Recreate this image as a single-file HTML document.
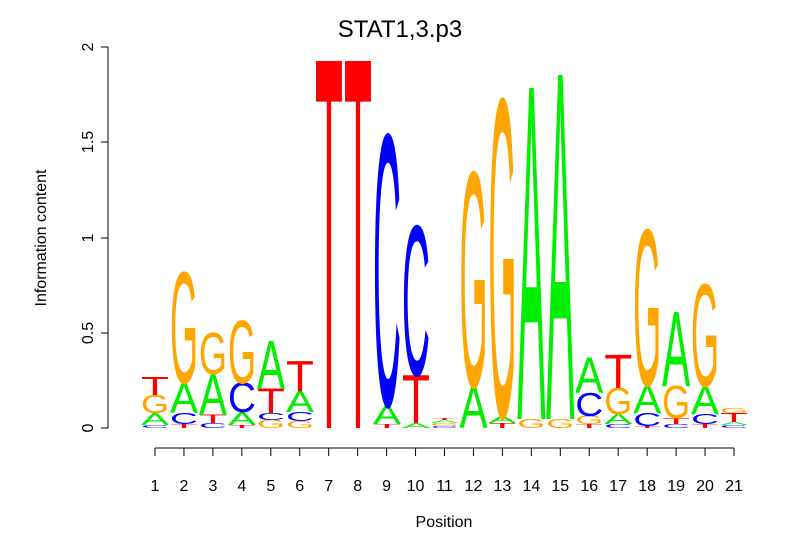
<!DOCTYPE html>
<html><head><meta charset="utf-8"><style>
body{margin:0;background:#fff}
svg{display:block}
.L{font-family:"Liberation Sans",sans-serif;font-weight:normal;font-size:100px}
.A{fill:#00ee00}.C{fill:#0000ff}.G{fill:#ffa500}.T{fill:#ff0000}
.ax{font-family:"Liberation Sans",sans-serif;font-size:16px;fill:#000}
</style></head><body>
<svg width="806" height="559" viewBox="0 0 806 559" xmlns="http://www.w3.org/2000/svg">
<rect width="806" height="559" fill="#fff"/>
<text x="400" y="37" text-anchor="middle" font-family="Liberation Sans, sans-serif" font-size="24">STAT1,3.p3</text>
<g stroke="#000" stroke-width="1" fill="none">
<line x1="108" y1="47" x2="108" y2="428"/>
<line x1="101" y1="428" x2="108" y2="428"/><line x1="101" y1="333" x2="108" y2="333"/><line x1="101" y1="238" x2="108" y2="238"/><line x1="101" y1="142" x2="108" y2="142"/><line x1="101" y1="47" x2="108" y2="47"/>
<line x1="155" y1="448" x2="734" y2="448"/>
<line x1="155" y1="448" x2="155" y2="456"/><line x1="183.95" y1="448" x2="183.95" y2="456"/><line x1="212.9" y1="448" x2="212.9" y2="456"/><line x1="241.85" y1="448" x2="241.85" y2="456"/><line x1="270.8" y1="448" x2="270.8" y2="456"/><line x1="299.75" y1="448" x2="299.75" y2="456"/><line x1="328.7" y1="448" x2="328.7" y2="456"/><line x1="357.65" y1="448" x2="357.65" y2="456"/><line x1="386.6" y1="448" x2="386.6" y2="456"/><line x1="415.55" y1="448" x2="415.55" y2="456"/><line x1="444.5" y1="448" x2="444.5" y2="456"/><line x1="473.45" y1="448" x2="473.45" y2="456"/><line x1="502.4" y1="448" x2="502.4" y2="456"/><line x1="531.35" y1="448" x2="531.35" y2="456"/><line x1="560.3" y1="448" x2="560.3" y2="456"/><line x1="589.25" y1="448" x2="589.25" y2="456"/><line x1="618.2" y1="448" x2="618.2" y2="456"/><line x1="647.15" y1="448" x2="647.15" y2="456"/><line x1="676.1" y1="448" x2="676.1" y2="456"/><line x1="705.05" y1="448" x2="705.05" y2="456"/><line x1="734" y1="448" x2="734" y2="456"/>
</g>
<g class="ax" text-anchor="middle">
<text transform="translate(93,428) rotate(-90)">0</text>
<text transform="translate(93,333) rotate(-90)">0.5</text>
<text transform="translate(93,238) rotate(-90)">1</text>
<text transform="translate(93,142) rotate(-90)">1.5</text>
<text transform="translate(93,47) rotate(-90)">2</text>
<text transform="translate(46,238) rotate(-90)">Information content</text>
<text x="444" y="527">Position</text>
<text x="155" y="491">1</text><text x="183.95" y="491">2</text><text x="212.9" y="491">3</text><text x="241.85" y="491">4</text><text x="270.8" y="491">5</text><text x="299.75" y="491">6</text><text x="328.7" y="491">7</text><text x="357.65" y="491">8</text><text x="386.6" y="491">9</text><text x="415.55" y="491">10</text><text x="444.5" y="491">11</text><text x="473.45" y="491">12</text><text x="502.4" y="491">13</text><text x="531.35" y="491">14</text><text x="560.3" y="491">15</text><text x="589.25" y="491">16</text><text x="618.2" y="491">17</text><text x="647.15" y="491">18</text><text x="676.1" y="491">19</text><text x="705.05" y="491">20</text><text x="734" y="491">21</text>
</g>
<g class="L">
<text class="C" transform="translate(141,428) scale(0.388,0.044)">C</text>
<text class="A" transform="translate(141,425) scale(0.42,0.174)">A</text>
<text class="G" transform="translate(141,413) scale(0.360,0.262)">G</text>
<text class="T" transform="translate(141,395) scale(0.458,0.262)">T</text>
<text class="T" transform="translate(170,428) scale(0.458,0.058)">T</text>
<text class="C" transform="translate(170,424) scale(0.388,0.16)">C</text>
<text class="A" transform="translate(170,413) scale(0.42,0.436)">A</text>
<text class="G" transform="translate(170,383) scale(0.360,1.599)">G</text>
<text class="C" transform="translate(199,428) scale(0.388,0.073)">C</text>
<text class="T" transform="translate(199,423) scale(0.458,0.116)">T</text>
<text class="A" transform="translate(199,415) scale(0.42,0.596)">A</text>
<text class="G" transform="translate(199,374) scale(0.360,0.596)">G</text>
<text class="T" transform="translate(228,428) scale(0.458,0.044)">T</text>
<text class="A" transform="translate(228,425) scale(0.42,0.189)">A</text>
<text class="C" transform="translate(228,412) scale(0.388,0.422)">C</text>
<text class="G" transform="translate(228,383) scale(0.360,0.901)">G</text>
<text class="G" transform="translate(257,428) scale(0.360,0.116)">G</text>
<text class="C" transform="translate(257,420) scale(0.388,0.102)">C</text>
<text class="T" transform="translate(257,413) scale(0.458,0.349)">T</text>
<text class="A" transform="translate(257,389) scale(0.42,0.698)">A</text>
<text class="G" transform="translate(286,428) scale(0.360,0.102)">G</text>
<text class="C" transform="translate(286,421) scale(0.388,0.131)">C</text>
<text class="A" transform="translate(286,412) scale(0.42,0.305)">A</text>
<text class="T" transform="translate(286,391) scale(0.458,0.436)">T</text>
<text class="T" transform="translate(315,428) scale(0.458,5.334)">T</text>
<text class="T" transform="translate(344,428) scale(0.458,5.334)">T</text>
<text class="T" transform="translate(373,428) scale(0.458,0.058)">T</text>
<text class="A" transform="translate(373,424) scale(0.42,0.276)">A</text>
<text class="C" transform="translate(373,405) scale(0.388,3.895)">C</text>
<text class="A" transform="translate(402,428) scale(0.42,0.073)">A</text>
<text class="T" transform="translate(402,423) scale(0.458,0.698)">T</text>
<text class="C" transform="translate(402,375) scale(0.388,2.151)">C</text>
<text class="C" transform="translate(430.5,428) scale(0.388,0.029)">C</text>
<text class="G" transform="translate(430.5,426) scale(0.360,0.044)">G</text>
<text class="A" transform="translate(430.5,423) scale(0.42,0.044)">A</text>
<text class="T" transform="translate(430.5,420) scale(0.458,0.029)">T</text>
<text class="A" transform="translate(459.5,428) scale(0.42,0.610)">A</text>
<text class="G" transform="translate(459.5,386) scale(0.360,3.081)">G</text>
<text class="T" transform="translate(488.4,428) scale(0.458,0.073)">T</text>
<text class="A" transform="translate(488.4,423) scale(0.42,0.102)">A</text>
<text class="G" transform="translate(488.4,416) scale(0.360,4.564)">G</text>
<text class="G" transform="translate(517.4,428) scale(0.360,0.131)">G</text>
<text class="A" transform="translate(517.4,419) scale(0.42,4.811)">A</text>
<text class="G" transform="translate(546.3,428) scale(0.360,0.131)">G</text>
<text class="A" transform="translate(546.3,419) scale(0.42,5.0)">A</text>
<text class="T" transform="translate(575.3,428) scale(0.458,0.058)">T</text>
<text class="G" transform="translate(575.3,424) scale(0.360,0.116)">G</text>
<text class="C" transform="translate(575.3,416) scale(0.388,0.334)">C</text>
<text class="A" transform="translate(575.3,393) scale(0.42,0.509)">A</text>
<text class="C" transform="translate(604.2,428) scale(0.388,0.058)">C</text>
<text class="A" transform="translate(604.2,424) scale(0.42,0.145)">A</text>
<text class="G" transform="translate(604.2,414) scale(0.360,0.378)">G</text>
<text class="T" transform="translate(604.2,388) scale(0.458,0.480)">T</text>
<text class="T" transform="translate(633.2,428) scale(0.458,0.029)">T</text>
<text class="C" transform="translate(633.2,426) scale(0.388,0.189)">C</text>
<text class="A" transform="translate(633.2,413) scale(0.42,0.407)">A</text>
<text class="G" transform="translate(633.2,385) scale(0.360,2.238)">G</text>
<text class="C" transform="translate(662.1,428) scale(0.388,0.058)">C</text>
<text class="T" transform="translate(662.1,424) scale(0.458,0.087)">T</text>
<text class="G" transform="translate(662.1,418) scale(0.360,0.465)">G</text>
<text class="A" transform="translate(662.1,386) scale(0.42,1.076)">A</text>
<text class="T" transform="translate(691,428) scale(0.458,0.058)">T</text>
<text class="C" transform="translate(691,424) scale(0.388,0.145)">C</text>
<text class="A" transform="translate(691,414) scale(0.42,0.407)">A</text>
<text class="G" transform="translate(691,386) scale(0.360,1.468)">G</text>
<text class="C" transform="translate(720,428) scale(0.388,0.044)">C</text>
<text class="A" transform="translate(720,425) scale(0.42,0.044)">A</text>
<text class="T" transform="translate(720,422) scale(0.458,0.131)">T</text>
<text class="G" transform="translate(720,413) scale(0.360,0.073)">G</text>
</g>
</svg>
</body></html>
